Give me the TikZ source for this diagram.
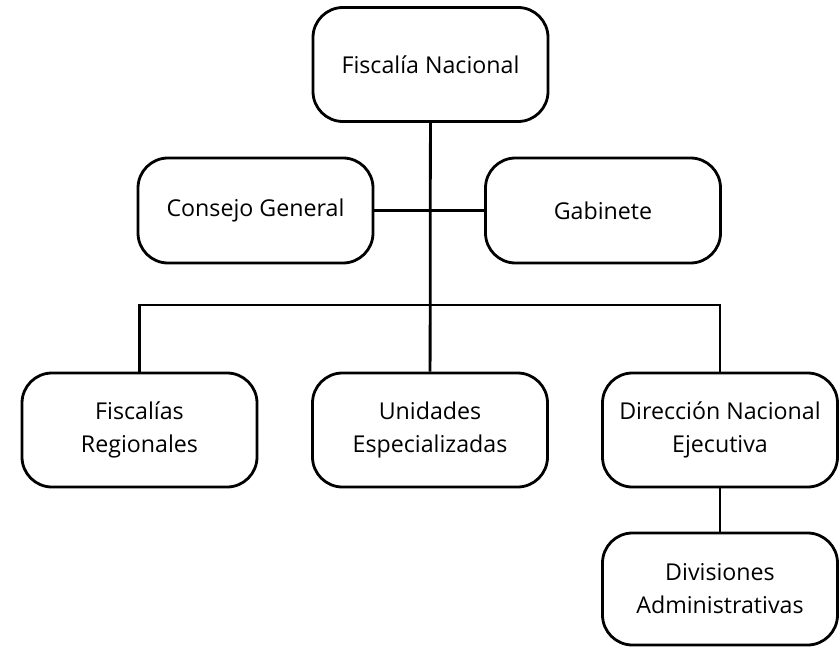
\documentclass[tikz,border=0pt]{standalone}
\usepackage{fontspec}
\setmainfont{Open Sans}
\usetikzlibrary{positioning}

\begin{document}
\begin{tikzpicture}[x=1pt,y=1pt,line width=2.8pt,
                    box/.style={draw=black,rounded corners=30pt,minimum width=235pt,
                      minimum height=114pt,align=center,inner sep=0pt,
                      font=\fontsize{23.2}{33}\selectfont}]
  \useasboundingbox (0,0) rectangle (840,-647);

  \node[box] (nac) at (430.5,-64.5) {Fiscalía Nacional};
  \node[box, minimum height=105pt] (cons) at (255.5,-210.5) {Consejo General};
  \node[box, minimum height=105pt] (gab) at (603,-210.5) {Gabinete};
  \node[box] (reg) at (139.5,-430) {Fiscalías\\Regionales};
  \node[box] (uni) at (430,-430) {Unidades\\Especializadas};
  \node[box] (dir) at (720,-430) {Dirección Nacional\\Ejecutiva};
  \node[box, minimum height=112pt] (div) at (720,-589) {Divisiones\\Administrativas};

  \coordinate (bus) at (430,-305);

  \draw (nac) -- (uni);
  \draw (cons) -- (gab);
  \draw (reg.north) |- (bus) -| (dir.north);
  \draw (dir) -- (div);
\end{tikzpicture}
\end{document}
